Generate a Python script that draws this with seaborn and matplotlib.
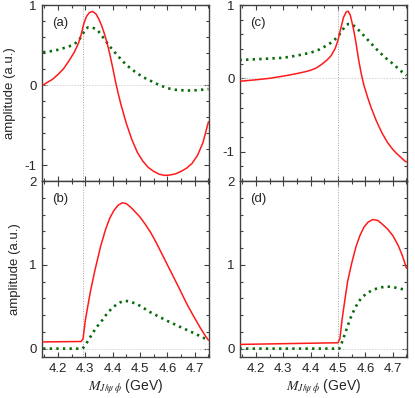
import numpy as np
import pandas as pd
import seaborn as sns
import matplotlib
matplotlib.use("Agg")
import matplotlib.pyplot as plt
from matplotlib.ticker import MultipleLocator

# ---------------- data ----------------
# panel (a)
a_red_x = [4.146, 4.16, 4.18, 4.20, 4.22, 4.24, 4.26, 4.275, 4.285, 4.295, 4.305, 4.315, 4.327,
           4.34, 4.35, 4.36, 4.37, 4.38, 4.39, 4.40, 4.41, 4.42, 4.43, 4.45, 4.47, 4.49, 4.51,
           4.53, 4.55, 4.57, 4.59, 4.61, 4.63, 4.65, 4.67, 4.69, 4.71, 4.73, 4.75]
a_red_y = [0.00, 0.03, 0.07, 0.13, 0.20, 0.30, 0.41, 0.52, 0.63, 0.77, 0.86, 0.905, 0.92,
           0.885, 0.82, 0.74, 0.64, 0.52, 0.38, 0.22, 0.05, -0.10, -0.24, -0.48, -0.68, -0.84, -0.95,
           -1.03, -1.08, -1.115, -1.13, -1.125, -1.11, -1.08, -1.04, -0.98, -0.88, -0.72, -0.46]
a_grn_x = [4.146, 4.17, 4.20, 4.23, 4.255, 4.275, 4.29, 4.30, 4.31, 4.325, 4.344, 4.36, 4.37,
           4.39, 4.42, 4.45, 4.48, 4.51, 4.54, 4.57, 4.60, 4.63, 4.67, 4.71, 4.75]
a_grn_y = [0.41, 0.42, 0.44, 0.47, 0.50, 0.55, 0.63, 0.70, 0.72, 0.72, 0.69, 0.62, 0.57,
           0.48, 0.36, 0.25, 0.17, 0.10, 0.05, 0.00, -0.04, -0.06, -0.07, -0.065, -0.05]

# panel (b)
b_red_x = [4.146, 4.285, 4.292, 4.30, 4.31, 4.32, 4.335, 4.356, 4.375, 4.39, 4.405, 4.42, 4.435,
           4.45, 4.465, 4.48, 4.50, 4.52, 4.54, 4.56, 4.58, 4.60, 4.62, 4.646, 4.67, 4.69,
           4.718, 4.735, 4.75]
b_red_y = [0.08, 0.085, 0.12, 0.33, 0.52, 0.70, 0.93, 1.22, 1.43, 1.56, 1.65, 1.71, 1.74,
           1.73, 1.69, 1.64, 1.57, 1.48, 1.38, 1.26, 1.13, 1.00, 0.87, 0.70, 0.54, 0.42,
           0.26, 0.17, 0.10]
b_grn_x = [4.146, 4.29, 4.30, 4.315, 4.33, 4.345, 4.36, 4.38, 4.40, 4.42, 4.44, 4.46, 4.49,
           4.52, 4.54, 4.57, 4.60, 4.646, 4.70, 4.75]
b_grn_y = [0.00, 0.00, 0.04, 0.12, 0.20, 0.27, 0.33, 0.42, 0.49, 0.54, 0.57, 0.565, 0.53,
           0.47, 0.43, 0.38, 0.33, 0.26, 0.18, 0.10]

# panel (c)
c_red_x = [4.14, 4.20, 4.25, 4.30, 4.35, 4.38, 4.40, 4.42, 4.44, 4.46, 4.475, 4.49, 4.50, 4.51,
           4.52, 4.53, 4.537, 4.545, 4.555, 4.565, 4.575, 4.585, 4.595, 4.61, 4.62, 4.64,
           4.66, 4.68, 4.70, 4.713, 4.73, 4.745, 4.75]
c_red_y = [-0.04, -0.02, 0.00, 0.03, 0.065, 0.09, 0.11, 0.14, 0.19, 0.25, 0.31, 0.41, 0.52, 0.68,
           0.83, 0.905, 0.915, 0.86, 0.70, 0.50, 0.26, 0.06, -0.10, -0.28, -0.39, -0.58,
           -0.74, -0.87, -0.97, -1.02, -1.08, -1.13, -1.14]
c_grn_x = [4.14, 4.20, 4.25, 4.30, 4.35, 4.40, 4.43, 4.46, 4.48, 4.50, 4.515, 4.527, 4.537,
           4.55, 4.565, 4.58, 4.60, 4.62, 4.64, 4.67, 4.70, 4.73, 4.75]
c_grn_y = [0.25, 0.26, 0.27, 0.28, 0.31, 0.35, 0.39, 0.45, 0.50, 0.57, 0.65, 0.72, 0.74,
           0.735, 0.70, 0.64, 0.56, 0.48, 0.40, 0.29, 0.20, 0.10, 0.04]

# panel (d)
d_red_x = [4.14, 4.50, 4.507, 4.515, 4.525, 4.535, 4.55, 4.566, 4.58, 4.595, 4.61, 4.627,
           4.645, 4.66, 4.68, 4.70, 4.72, 4.735, 4.75]
d_red_y = [0.05, 0.07, 0.12, 0.35, 0.58, 0.80, 1.02, 1.22, 1.35, 1.45, 1.51, 1.54,
           1.53, 1.49, 1.43, 1.35, 1.23, 1.11, 0.96]
d_grn_x = [4.14, 4.505, 4.515, 4.53, 4.545, 4.56, 4.575, 4.59, 4.61, 4.63, 4.655, 4.68,
           4.70, 4.72, 4.75]
d_grn_y = [0.00, 0.00, 0.08, 0.22, 0.36, 0.47, 0.56, 0.62, 0.67, 0.705, 0.73, 0.74,
           0.735, 0.72, 0.70]

panel_labels = ["(a)", "(b)", "(c)", "(d)"]
thresholds = [4.29, 4.50]
xticks = [4.2, 4.3, 4.4, 4.5, 4.6, 4.7]
xlabel = r"$M_{J/\psi\;\phi}$ (GeV)"
ylabel = "amplitude (a.u.)"

# ---------------- style ----------------
sns.set_style("ticks")
plt.rcParams["font.family"] = ["Liberation Sans", "DejaVu Sans"]
plt.rcParams["mathtext.fontset"] = "stix"
plt.rcParams["font.size"] = 9.5

fig = plt.figure(figsize=(4.15, 3.98), dpi=100)
W, H = 415, 398


def box(x0, y0, x1, y1):
    return [x0 / W, 1 - y1 / H, (x1 - x0) / W, (y1 - y0) / H]


ax_a = fig.add_axes(box(42, 5, 209, 181))
ax_b = fig.add_axes(box(42, 181, 209, 357))
ax_c = fig.add_axes(box(240, 5, 407, 181))
ax_d = fig.add_axes(box(240, 181, 407, 357))

panels = [
    (ax_a, a_red_x, a_red_y, a_grn_x, a_grn_y, (-1.2, 1.0), thresholds[0], panel_labels[0], True, False),
    (ax_b, b_red_x, b_red_y, b_grn_x, b_grn_y, (-0.1, 2.0), thresholds[0], panel_labels[1], True, True),
    (ax_c, c_red_x, c_red_y, c_grn_x, c_grn_y, (-1.4, 1.0), thresholds[1], panel_labels[2], False, False),
    (ax_d, d_red_x, d_red_y, d_grn_x, d_grn_y, (-0.1, 2.0), thresholds[1], panel_labels[3], False, True),
]

spine_col = "#404040"
for ax, rx, ry, gx, gy, ylim, thr, lab, left, bottom in panels:
    ax.axhline(0, color="#d0d0d0", lw=0.6, ls=(0, (2, 1.5)), zorder=1)
    ax.axvline(thr, color="#a0a0a0", lw=0.7, ls=(0, (1, 1.6)), zorder=1)
    sns.lineplot(x=rx, y=ry, ax=ax, color="#ff1a1a", lw=1.1, zorder=3)
    sns.lineplot(x=gx, y=gy, ax=ax, color="#0a6b0a", lw=1.9, zorder=2)
    ax.lines[-1].set_linestyle((0, (0.9, 1.6)))
    ax.set_xlim(4.142, 4.752)
    ax.set_ylim(*ylim)
    ax.xaxis.set_major_locator(MultipleLocator(0.1))
    ax.xaxis.set_minor_locator(MultipleLocator(0.05))
    ax.yaxis.set_major_locator(MultipleLocator(1.0))
    ax.yaxis.set_minor_locator(MultipleLocator(0.2))
    ax.tick_params(which="both", direction="in", top=True, right=True,
                   color=spine_col, width=0.8, labelsize=9.5, pad=4)
    ax.tick_params(which="major", length=3.5)
    ax.tick_params(which="minor", length=2)
    for s in ax.spines.values():
        s.set_color(spine_col)
        s.set_linewidth(1.0)
    ax.text(0.06, 0.9, lab, transform=ax.transAxes, fontsize=9.5, va="center", ha="left")
    if bottom:
        ax.set_xticks(xticks)
        ax.set_xticklabels([f"{v:.1f}" for v in xticks])
        ax.set_xlabel(xlabel, fontsize=10, labelpad=2)
    else:
        ax.tick_params(labelbottom=False)
        ax.set_xlabel("")
    if left:
        ax.set_ylabel(ylabel, fontsize=9.5, labelpad=6)
    else:
        ax.set_ylabel("")
    yt = [v for v in [-1, 0, 1, 2] if ylim[0] <= v <= ylim[1]]
    ax.set_yticks(yt)
    ax.set_yticklabels([str(v) for v in yt])

fig.savefig("out.png", dpi=100)
